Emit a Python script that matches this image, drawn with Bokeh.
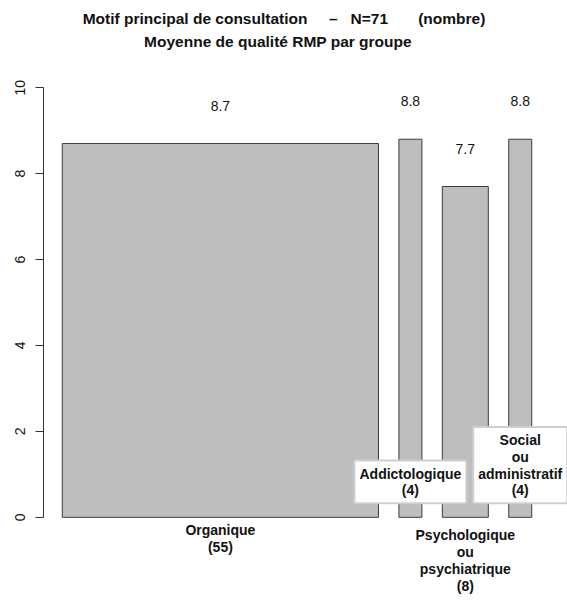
import numpy as np
from bokeh.plotting import figure
from bokeh.models import Range1d, FixedTicker, Label, ColumnDataSource
from bokeh.core.properties import value
from bokeh.embed import file_html
from bokeh.resources import INLINE

# ---- data ----
categories = ["Organique", "Addictologique", "Psychologique\nou\npsychiatrique", "Social\nou\nadministratif"]
counts = [55, 4, 8, 4]
means = [8.7, 8.8, 7.7, 8.8]
mean_labels = ["8.7", "8.8", "7.7", "8.8"]
y_ticks = [0, 2, 4, 6, 8, 10]
NB = "\u00a0"
title_line1 = ("Motif principal de consultation" + NB * 5 + "\u2013" + NB * 3 + "N=71"
               + NB * 7 + "(nombre)")
title_line2 = "Moyenne de qualité RMP par groupe"

FONT = "Liberation Sans"
W, H = 567, 601

# R-style barplot geometry (width proportional to counts, space = 0.2 * mean width)
w = np.array(counts, dtype=float)
space = 0.2 * w.mean()
rights = np.cumsum(space + w)
lefts = rights - w
centers = (lefts + rights) / 2
xlo, xhi = lefts.min(), rights.max()
dx = (xhi - xlo) * 0.04
ylo, yhi = 0.0, 10.0
dy = (yhi - ylo) * 0.04

# R plot region (px) inside the page: left 43, right 550, top 70, bottom 534
reg_l, reg_r, reg_t, reg_b = 43, 550, 70, 534
pxu = (reg_r - reg_l) / ((xhi + dx) - (xlo - dx))
pxv = (reg_b - reg_t) / ((yhi + dy) - (ylo - dy))
x_range = Range1d(xlo - dx, (xhi + dx) + (W - reg_r) / pxu)
y_range = Range1d((ylo - dy) - (H - reg_b) / pxv, (yhi + dy) + reg_t / pxv)

p = figure(width=W, height=H, output_backend="svg", toolbar_location=None,
           x_range=x_range, y_range=y_range,
           x_axis_type=None, min_border_left=reg_l, min_border_right=0,
           min_border_top=0, min_border_bottom=0)
p.outline_line_color = None
p.grid.visible = False
p.background_fill_color = "white"
p.border_fill_color = "white"

src = ColumnDataSource(dict(left=lefts, right=rights, top=means, x=centers, lab=mean_labels))
p.quad(left="left", right="right", bottom=0, top="top", source=src,
       fill_color="#BEBEBE", line_color="#3c3c3c", line_width=1)

p.text(x="x", y="top", text="lab", source=src, text_align="center", text_baseline="middle",
       y_offset=-38, text_font=value(FONT), text_font_size="14px", text_color="#111111")

ax = p.yaxis[0]
ax.bounds = (0, 10)
ax.ticker = FixedTicker(ticks=y_ticks)
ax.major_label_orientation = "vertical"
ax.major_tick_out = 8
ax.major_tick_in = 0
ax.minor_tick_line_color = None
ax.axis_line_color = "#333333"
ax.major_tick_line_color = "#333333"
ax.major_label_text_font = FONT
ax.major_label_text_font_size = "14px"
ax.major_label_text_color = "#111111"
ax.major_label_standoff = 10

# category labels
common = dict(text_font=FONT, text_font_size="14px", text_font_style="bold",
              text_align="center", text_color="#111111", text_line_height=1.05)
# below the axis (1st and 3rd)
p.add_layout(Label(x=centers[0], y=0, text=f"{categories[0]}\n({counts[0]})",
                   text_baseline="top", y_offset=-5, **common))
p.add_layout(Label(x=centers[2], y=0, text=f"{categories[2]}\n({counts[2]})",
                   text_baseline="top", y_offset=-10, **common))
# boxed labels (2nd and 4th)
for i in (1, 3):
    p.add_layout(Label(x=centers[i], y=0, text=f"{categories[i]}\n({counts[i]})",
                       text_baseline="bottom", y_offset=14,
                       background_fill_color="white", border_line_color="#cfcfcf",
                       border_line_width=2, padding=5, **common))

# titles
xmid = (xlo + xhi) / 2
tcommon = dict(text_font=FONT, text_font_size="15.5px", text_font_style="bold",
               text_align="center", text_baseline="middle", text_color="#111111")
p.add_layout(Label(x=xmid, y=10, text=title_line1, x_offset=-13, y_offset=69, **tcommon))
p.add_layout(Label(x=xmid, y=10, text=title_line2, x_offset=-19, y_offset=46, **tcommon))

open("out.html", "w").write(file_html(p, INLINE))
